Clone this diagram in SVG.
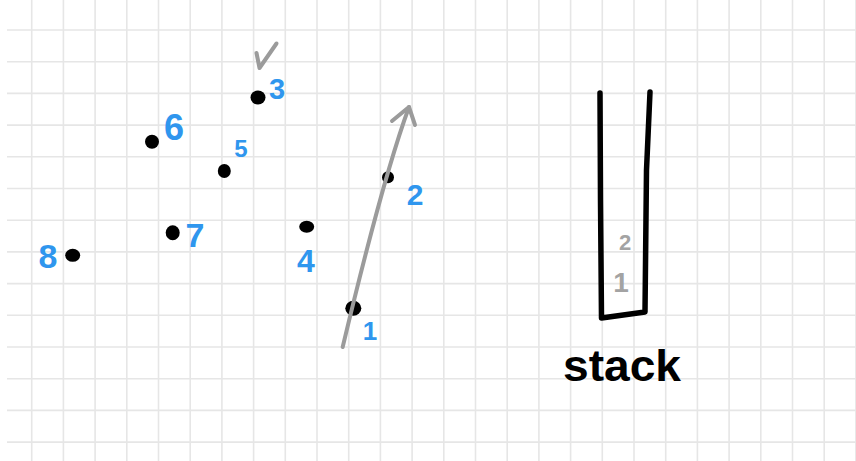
<svg xmlns="http://www.w3.org/2000/svg" width="856" height="461" viewBox="0 0 856 461">
<style>
.grid{stroke:#e6e6e6;stroke-width:1.6;fill:none}
.dot{fill:#000}
.lbl{font-family:"Liberation Sans",Arial,sans-serif;font-weight:bold;fill:#2f96ee;text-anchor:middle}
.glbl{font-family:"Liberation Sans",Arial,sans-serif;font-weight:bold;fill:#a3a3a3;text-anchor:middle}
.gray{stroke:#9b9b9b;stroke-width:4;fill:none;stroke-linecap:round;stroke-linejoin:round}
.ink{stroke:#000;stroke-width:5.5;fill:none;stroke-linecap:round;stroke-linejoin:round}
</style>
<rect width="856" height="461" fill="#fff"/>
<g id="grid">
<path class="grid" d="M31.7,0V461M63.4,0V461M95.1,0V461M126.8,0V461M158.5,0V461M190.2,0V461M221.9,0V461M253.6,0V461M285.3,0V461M317,0V461M348.7,0V461M380.4,0V461M412.1,0V461M443.8,0V461M475.5,0V461M507.2,0V461M538.9,0V461M570.6,0V461M602.3,0V461M634,0V461M665.7,0V461M697.4,0V461M729.1,0V461M760.8,0V461M792.5,0V461M824.2,0V461M855.9,0V461"/>
<path class="grid" d="M7,30H856M7,61.7H856M7,93.4H856M7,125.1H856M7,156.8H856M7,188.5H856M7,220.2H856M7,251.9H856M7,283.6H856M7,315.3H856M7,347H856M7,378.7H856M7,410.4H856M7,442.1H856"/>
</g>
<g id="check"><path class="gray" d="M256.5,53 L259.5,68 L276.5,43.5" stroke-width="5"/></g>
<g id="node1"><ellipse class="dot" cx="353.3" cy="308.3" rx="8" ry="7.5"/><text class="lbl" x="370" y="340" font-size="26">1</text></g>
<g id="node2"><ellipse class="dot" cx="388" cy="177.3" rx="6" ry="6"/><text class="lbl" x="415" y="205" font-size="30">2</text></g>
<g id="node3"><ellipse class="dot" cx="258" cy="97.5" rx="7.5" ry="7"/><text class="lbl" x="277" y="99" font-size="29">3</text></g>
<g id="node4"><ellipse class="dot" cx="306.7" cy="226.7" rx="7.5" ry="6"/><text class="lbl" x="306" y="272" font-size="32">4</text></g>
<g id="node5"><ellipse class="dot" cx="224.3" cy="171" rx="6.5" ry="7"/><text class="lbl" x="241" y="157" font-size="24">5</text></g>
<g id="node6"><ellipse class="dot" cx="152" cy="141.7" rx="7" ry="7"/><text class="lbl" x="174" y="140" font-size="36">6</text></g>
<g id="node7"><ellipse class="dot" cx="172.7" cy="232.7" rx="7" ry="7.5"/><text class="lbl" x="195" y="247" font-size="34">7</text></g>
<g id="node8"><ellipse class="dot" cx="72.7" cy="255.3" rx="7.5" ry="6.5"/><text class="lbl" x="48" y="268" font-size="34">8</text></g>
<g id="connectors">
<path class="gray" d="M342.7,347 Q383,178 409,107"/>
<path class="gray" d="M392,121 L409,107 L415,125"/>
</g>
<g id="stack">
<path class="ink" d="M600,93 L600.5,200 L601.5,318 L645,312 L646.5,170 L650,92"/>
<text class="glbl" x="625" y="250" font-size="22">2</text>
<text class="glbl" x="621" y="292" font-size="28">1</text>
<text x="622" y="381" font-family="'Liberation Sans',Arial,sans-serif" font-weight="bold" font-size="44" text-anchor="middle" textLength="118" lengthAdjust="spacingAndGlyphs" fill="#000">stack</text>
</g>
</svg>
